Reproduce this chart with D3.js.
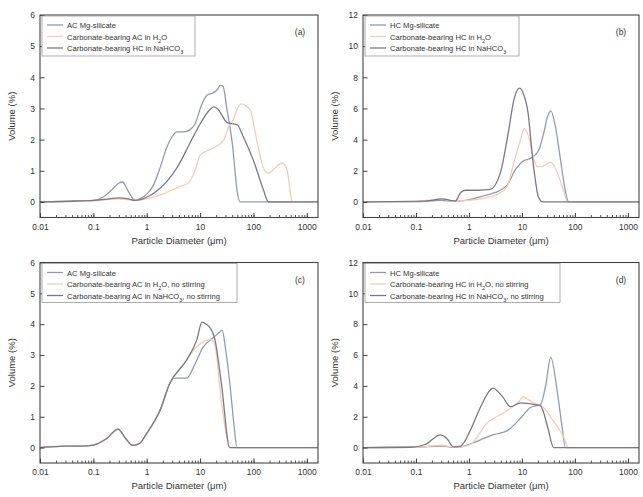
<!DOCTYPE html>
<html>
<head>
<meta charset="utf-8">
<script src="https://cdn.jsdelivr.net/npm/d3@7"></script>
<style>
  html, body { margin: 0; padding: 0; background: #fff; }
  svg { display: block; font-family: "Liberation Sans", Arial, sans-serif; }
</style>
</head>
<body>
<svg id="chart" width="643" height="497"></svg>
<script>
// ---------------- DATA (diameter µm, volume %) ----------------
const xTickValues = [0.01, 0.1, 1, 10, 100, 1000];
const xTickLabels = ["0.01", "0.1", "1", "10", "100", "1000"];
const yTicksAC = [0, 1, 2, 3, 4, 5, 6];
const yTicksHC = [0, 2, 4, 6, 8, 10, 12];

// Panel (a)
const aMg = [[0.01,0],[0.03,0.02],[0.06,0.03],[0.1,0.05],[0.15,0.15],[0.22,0.38],[0.3,0.6],[0.35,0.64],[0.45,0.35],[0.6,0.05],[0.8,0.12],[1.0,0.25],[1.3,0.5],[1.78,1.1],[2.4,1.77],[3.0,2.1],[3.7,2.25],[5,2.25],[6.5,2.32],[8,2.5],[10.9,3.15],[13.6,3.43],[17.6,3.5],[21,3.6],[24,3.75],[27,3.7],[32,2.95],[40,1.9],[50,0.3],[56,0],[1620,0]];
const aH2O = [[0.01,0],[0.05,0.02],[0.1,0.03],[0.3,0.1],[0.6,0.05],[1,0.1],[2,0.25],[4.2,0.5],[6,0.6],[8,1.0],[10,1.5],[14,1.65],[21,1.8],[28,2.0],[34,2.4],[42,2.65],[50,3.0],[60,3.15],[70,3.1],[87,2.95],[118,1.9],[153,1.1],[190,0.92],[240,1.05],[300,1.2],[350,1.25],[430,1.0],[490,0.3],[535,0],[1620,0]];
const aNa = [[0.01,0],[0.05,0.03],[0.1,0.05],[0.2,0.1],[0.3,0.13],[0.45,0.1],[0.6,0.05],[1,0.15],[1.8,0.45],[2.5,0.7],[3.7,1.1],[6.5,1.9],[10,2.5],[15,2.95],[18,3.05],[21,3.0],[32,2.55],[37,2.52],[50,2.47],[64,2.1],[99,1.35],[153,0.4],[190,0],[1620,0]];

// Panel (b)
const bMg = [[0.01,0],[0.1,0.02],[0.3,0.1],[0.5,0.03],[0.8,0.08],[1.5,0.3],[2.5,0.5],[3.9,0.75],[5.3,1.1],[7.6,2.1],[10.3,2.6],[14.5,2.8],[20.6,3.3],[25.7,4.4],[30,5.4],[35,5.85],[43,4.8],[53.5,2.7],[66,0.7],[76,0],[1620,0]];
const bH2O = [[0.01,0],[0.1,0.03],[0.3,0.2],[0.5,0.05],[1,0.1],[2,0.25],[3.5,0.5],[5.3,1.0],[7,2.5],[9.4,4.0],[11,4.7],[13,4.3],[16,3.0],[19.5,2.25],[25,2.3],[35,2.55],[45,2.0],[60,0.8],[73,0],[1620,0]];
const bNa = [[0.01,0],[0.1,0.03],[0.2,0.1],[0.3,0.2],[0.45,0.1],[0.55,0.05],[0.7,0.6],[0.85,0.75],[1.5,0.75],[2.5,0.8],[3.9,1.85],[5.5,4.4],[7,6.5],[9,7.3],[10.5,7.0],[12.8,5.9],[16.6,2.25],[20.6,0.3],[24.6,0],[1620,0]];

// Panel (c)
const cMg = [[0.01,0],[0.03,0.05],[0.06,0.05],[0.1,0.08],[0.18,0.3],[0.29,0.6],[0.4,0.3],[0.55,0.07],[0.75,0.15],[1,0.46],[1.77,1.2],[2.7,2.08],[3.1,2.25],[5.6,2.25],[8,2.7],[11.3,3.25],[17.4,3.55],[23.5,3.75],[26,3.8],[30,3.2],[36,2.1],[44,0.6],[49,0],[1620,0]];
const cH2O = [[0.01,0],[0.03,0.05],[0.06,0.05],[0.1,0.08],[0.18,0.3],[0.29,0.58],[0.4,0.3],[0.55,0.08],[0.75,0.16],[1,0.46],[1.77,1.2],[2.7,2.08],[4,2.5],[5.6,2.85],[8,3.2],[12,3.45],[16,3.5],[19,3.3],[25,1.5],[33,0.2],[36,0],[1620,0]];
const cNa = [[0.01,0],[0.03,0.05],[0.06,0.05],[0.1,0.08],[0.18,0.3],[0.29,0.6],[0.4,0.3],[0.55,0.07],[0.75,0.15],[1,0.46],[1.77,1.2],[2.7,2.08],[5.6,2.84],[8.7,3.5],[10.8,4.07],[13,4.0],[15.2,3.9],[19,3.5],[25,2.1],[36,0],[1620,0]];

// Panel (d)
const dMg = [[0.01,0],[0.1,0.02],[0.3,0.1],[0.5,0.03],[0.7,0.05],[1,0.2],[1.64,0.5],[3,0.85],[5.3,1.1],[9.4,1.9],[14.5,2.6],[22.5,2.8],[28,4.0],[35,5.85],[47,3.5],[58,1.2],[66,0],[1620,0]];
const dH2O = [[0.01,0],[0.1,0.02],[0.3,0.15],[0.5,0.05],[0.7,0.05],[1.07,0.2],[2.2,1.6],[4.5,2.25],[7,2.7],[9.4,3.1],[10.5,3.3],[12,3.2],[16.6,2.9],[25.7,2.6],[39.6,1.7],[61,0.7],[76,0],[1620,0]];
const dNa = [[0.01,0],[0.08,0.02],[0.15,0.2],[0.29,0.83],[0.38,0.6],[0.51,0.05],[0.7,0.1],[1.07,1.15],[1.64,2.6],[2.54,3.75],[2.8,3.85],[4.3,3.3],[6.1,2.65],[9.4,2.9],[16.6,2.8],[22.5,2.7],[30.5,1.35],[39.6,0],[1620,0]];

const legendA = ["AC Mg-silicate", "Carbonate-bearing AC in H₂O", "Carbonate-bearing HC in NaHCO₃"];
const legendB = ["HC Mg-silicate", "Carbonate-bearing HC in H₂O", "Carbonate-bearing HC in NaHCO₃"];
const legendC = ["AC Mg-silicate", "Carbonate-bearing AC in H₂O, no stirring", "Carbonate-bearing AC in NaHCO₃, no stirring"];
const legendD = ["HC Mg-silicate", "Carbonate-bearing HC in H₂O, no stirring", "Carbonate-bearing HC in NaHCO₃, no stirring"];

// ---------------- STYLE / LAYOUT ----------------
const colors = ["#929bac", "#f1cdbd", "#7a7a85"];
const xDomain = [0.01, 1620];

const panels = [
  { tag: "(a)", series: [aMg, aH2O, aNa], legend: legendA, yTicks: yTicksAC, yDomain: [-0.5, 6],
    left: 40, right: 318, top: 15, bottom: 217.5, legW: 153, legH: 40 },
  { tag: "(b)", series: [bMg, bH2O, bNa], legend: legendB, yTicks: yTicksHC, yDomain: [-1, 12],
    left: 363, right: 639, top: 15, bottom: 217.5, legW: 154, legH: 40 },
  { tag: "(c)", series: [cMg, cH2O, cNa], legend: legendC, yTicks: yTicksAC, yDomain: [-0.5, 6],
    left: 40, right: 318, top: 262.5, bottom: 463, legW: 195, legH: 39 },
  { tag: "(d)", series: [dMg, dH2O, dNa], legend: legendD, yTicks: yTicksHC, yDomain: [-1, 12],
    left: 363, right: 639, top: 262.5, bottom: 463, legW: 195, legH: 39 }
];

const svg = d3.select("#chart");

function addRichText(sel, str) {
  const subMap = { "₂": "2", "₃": "3" };
  let buf = "";
  const flush = () => { if (buf) { sel.append("tspan").text(buf); buf = ""; } };
  for (const ch of str) {
    if (subMap[ch]) {
      flush();
      sel.append("tspan").attr("baseline-shift", "sub").attr("font-size", "0.72em").text(subMap[ch]);
    } else buf += ch;
  }
  flush();
}

const minorVals = [];
for (let e = -2; e <= 3; e++) for (let m = 1; m <= 9; m++) {
  const v = m * Math.pow(10, e);
  if (v >= xDomain[0] && v <= xDomain[1]) minorVals.push(v);
}

panels.forEach(p => {
  const x = d3.scaleLog().domain(xDomain).range([p.left, p.right]);
  const y = d3.scaleLinear().domain(p.yDomain).range([p.bottom, p.top]);
  const g = svg.append("g");

  const clipId = "clip" + p.tag.replace(/\W/g, "");
  svg.append("clipPath").attr("id", clipId).append("rect")
    .attr("x", p.left).attr("y", p.top).attr("width", p.right - p.left).attr("height", p.bottom - p.top);

  const line = d3.line().x(d => x(d[0])).y(d => y(d[1])).curve(d3.curveMonotoneX);
  const lg = g.append("g").attr("clip-path", `url(#${clipId})`);
  p.series.forEach((s, i) => {
    lg.append("path").datum(s).attr("d", line)
      .attr("fill", "none").attr("stroke", colors[i]).attr("stroke-width", 1.3)
      .attr("stroke-linejoin", "round");
  });

  const xMinor = d3.axisBottom(x).tickValues(minorVals).tickSize(-2.5).tickFormat("");
  g.append("g").attr("transform", `translate(0,${p.bottom})`).call(xMinor)
    .call(a => a.select(".domain").remove())
    .selectAll("line").attr("stroke", "#555");
  const xMajor = d3.axisBottom(x).tickValues(xTickValues).tickSize(-4.5).tickPadding(6)
    .tickFormat((d, i) => xTickLabels[i]);
  const xa = g.append("g").attr("transform", `translate(0,${p.bottom})`).call(xMajor);
  xa.select(".domain").remove();
  xa.selectAll("line").attr("stroke", "#444");
  xa.selectAll("text").attr("font-size", 8.5).attr("fill", "#333")
    .attr("font-family", "Liberation Sans, Arial, sans-serif");

  const yAxis = d3.axisLeft(y).tickValues(p.yTicks).tickSize(-4.5).tickPadding(5).tickFormat(d3.format("d"));
  const ya = g.append("g").attr("transform", `translate(${p.left},0)`).call(yAxis);
  ya.select(".domain").remove();
  ya.selectAll("line").attr("stroke", "#444");
  ya.selectAll("text").attr("font-size", 8.5).attr("fill", "#333")
    .attr("font-family", "Liberation Sans, Arial, sans-serif");

  g.append("rect").attr("x", p.left).attr("y", p.top)
    .attr("width", p.right - p.left).attr("height", p.bottom - p.top)
    .attr("fill", "none").attr("stroke", "#444").attr("stroke-width", 1.1);

  const leg = g.append("g").attr("transform", `translate(${p.left + 2},${p.top + 1})`);
  leg.append("rect").attr("width", p.legW).attr("height", p.legH)
    .attr("fill", "#fff").attr("stroke", "#999").attr("stroke-width", 0.8);
  p.legend.forEach((t, i) => {
    const yy = 9 + i * 11.5;
    leg.append("line").attr("x1", 5).attr("x2", 21).attr("y1", yy).attr("y2", yy)
      .attr("stroke", colors[i]).attr("stroke-width", 1.3);
    const tx = leg.append("text").attr("x", 25).attr("y", yy + 3)
      .attr("font-size", 7.6).attr("fill", "#333");
    addRichText(tx, t);
  });

  g.append("text").attr("x", p.right - 18).attr("y", p.top + 20)
    .attr("text-anchor", "middle").attr("font-size", 8.5).attr("fill", "#333").text(p.tag);

  g.append("text")
    .attr("transform", `translate(${p.left - 25},${(p.top + p.bottom) / 2}) rotate(-90)`)
    .attr("text-anchor", "middle").attr("font-size", 9.5).attr("fill", "#333").text("Volume (%)");
  g.append("text").attr("x", (p.left + p.right) / 2).attr("y", p.bottom + 26)
    .attr("text-anchor", "middle").attr("font-size", 9.5).attr("fill", "#333")
    .text("Particle Diameter (μm)");
});
</script>
</body>
</html>
